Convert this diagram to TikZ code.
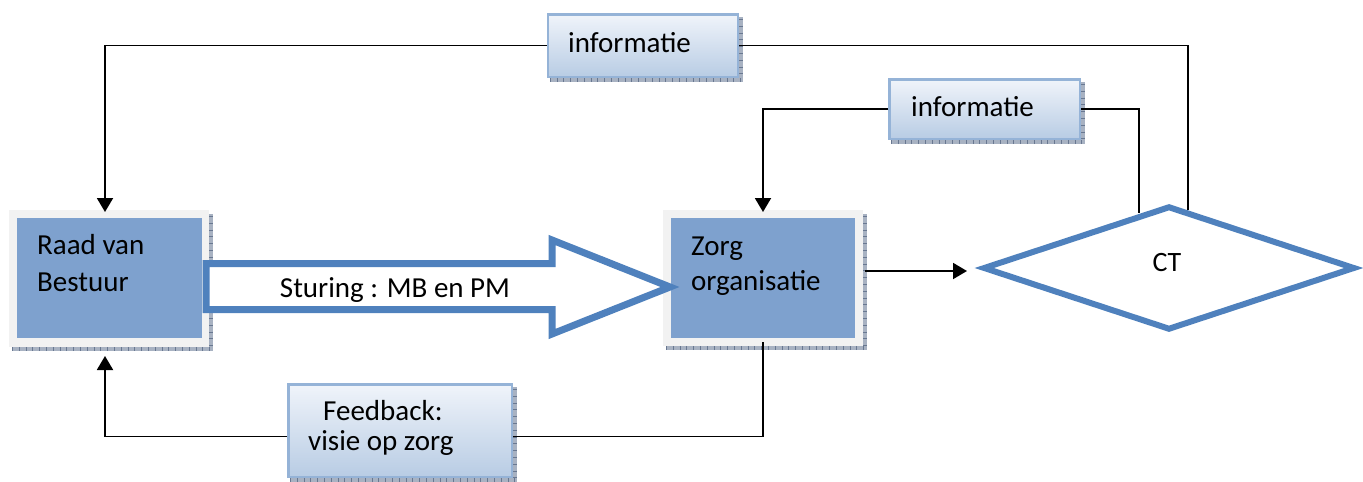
\documentclass[tikz,border=0pt]{standalone}
\usepackage{fontspec}
\setmainfont{Carlito}
\usetikzlibrary{shapes.geometric,arrows.meta,calc}
\definecolor{boxblue}{RGB}{126,161,206}
\definecolor{framegray}{RGB}{242,242,242}
\definecolor{strokeblue}{RGB}{79,129,189}
\definecolor{infoborder}{RGB}{149,179,215}
\definecolor{infotop}{RGB}{240,244,250}
\definecolor{infobot}{RGB}{184,204,228}
\definecolor{shadowc}{RGB}{168,178,194}
\definecolor{shadowtick}{RGB}{105,120,145}
\newcommand\hatchshadow[1]{%
  \fill[shadowc] ($(#1.north east)+(0,4)$) rectangle ($(#1.south east)+(3.5,4)$);
  \fill[shadowc] ($(#1.south west)+(3,0)$) rectangle ($(#1.south east)+(3.5,4)$);
  \draw[shadowtick, line width=4pt, dash pattern=on 0.8pt off 6pt] ($(#1.south west)+(3,2)$) -- ($(#1.south east)+(3.5,2)$);
  \draw[shadowtick, line width=3.5pt, dash pattern=on 0.8pt off 6pt] ($(#1.north east)+(1.75,6)$) -- ($(#1.south east)+(1.75,0)$);
}
\begin{document}
\begin{tikzpicture}[x=1pt,y=-1pt, font=\fontsize{29}{35}\selectfont,
  frame/.style={rectangle, fill=framegray, inner sep=0, outer sep=0},
  infobox/.style={rectangle, draw=infoborder, line width=2.5pt, top color=infotop, bottom color=infobot, inner sep=0},
  lbl/.style={anchor=base west, inner sep=0},
  conn/.style={draw=black, line width=1.9pt},
  arrowend/.style={-{Triangle[width=16pt,length=14pt]}},
  block/.style={draw=strokeblue, line width=7pt, fill=white, line join=miter},
  ctshape/.style={diamond, draw=strokeblue, line width=6pt, inner sep=0},
]
\useasboundingbox (0,0) rectangle (1363,482);

% main boxes
\node[frame, minimum width=200pt, minimum height=137pt] (raad) at (109,278.5) {};
\hatchshadow{raad}
\fill[boxblue] ($(raad.north west)+(8,8)$) rectangle ($(raad.south east)+(-7,-9)$);
\node[lbl] (raad1) at (37,254) {Raad van};
\node[lbl] (raad2) at (37,291) {Bestuur};

\node[frame, minimum width=200pt, minimum height=136pt] (zorg) at (763,278) {};
\hatchshadow{zorg}
\fill[boxblue] ($(zorg.north west)+(8,8)$) rectangle ($(zorg.south east)+(-8,-8)$);
\node[lbl] (zorg1) at (691,255) {Zorg};
\node[lbl] (zorg2) at (691,290) {organisatie};

% info boxes
\node[infobox, minimum width=190pt, minimum height=62.5pt] (info1) at (643,45.5) {};
\hatchshadow{info1}
\node[lbl] (info1t) at (568,52) {informatie};

\node[infobox, minimum width=190.5pt, minimum height=59.5pt] (info2) at (984.5,109) {};
\hatchshadow{info2}
\node[lbl] (info2t) at (911,116) {informatie};

\node[infobox, minimum width=223.5pt, minimum height=92.5pt] (fb) at (400,430.5) {};
\hatchshadow{fb}
\node[lbl] (fb1) at (323,420) {Feedback:};
\node[lbl] (fb2) at (308,450) {visie op zorg};

% CT diamond
\node[ctshape, minimum width=372pt, minimum height=124pt] (ct) at (1169,268) {};
\node[anchor=base, inner sep=0, font=\fontsize{28}{33}\selectfont] (ctlbl) at (1167,271) {CT};

% block arrow
\draw[block] (206,263.5) -- (552,263.5) -- (552,240) -- (670,287) -- (552,334) -- (552,309.5) -- (206,309.5) -- cycle;
\node[anchor=base, inner sep=0] (sturing) at (395,297) {Sturing : MB en PM};

% connectors
\draw[conn, arrowend] (info1.west) -| ($(raad.north)+(-4,2)$);
\draw[conn] (info1.east) -| (ct.72);
\draw[conn] (info2.east) -| (ct.119);
\draw[conn, arrowend] (info2.west) -| ($(zorg.north)+(0,2)$);
\draw[conn, arrowend] ($(zorg.east)+(2,-7)$) -- ($(zorg.east -| ct.west)+(-13,-7)$);
\draw[conn] ($(zorg.south)+(0,-4)$) |- ($(fb.east)+(0,6)$);
\draw[conn, arrowend] ($(fb.west)+(0,6)$) -| ($(raad.south)+(-4,9)$);
\end{tikzpicture}
\end{document}
